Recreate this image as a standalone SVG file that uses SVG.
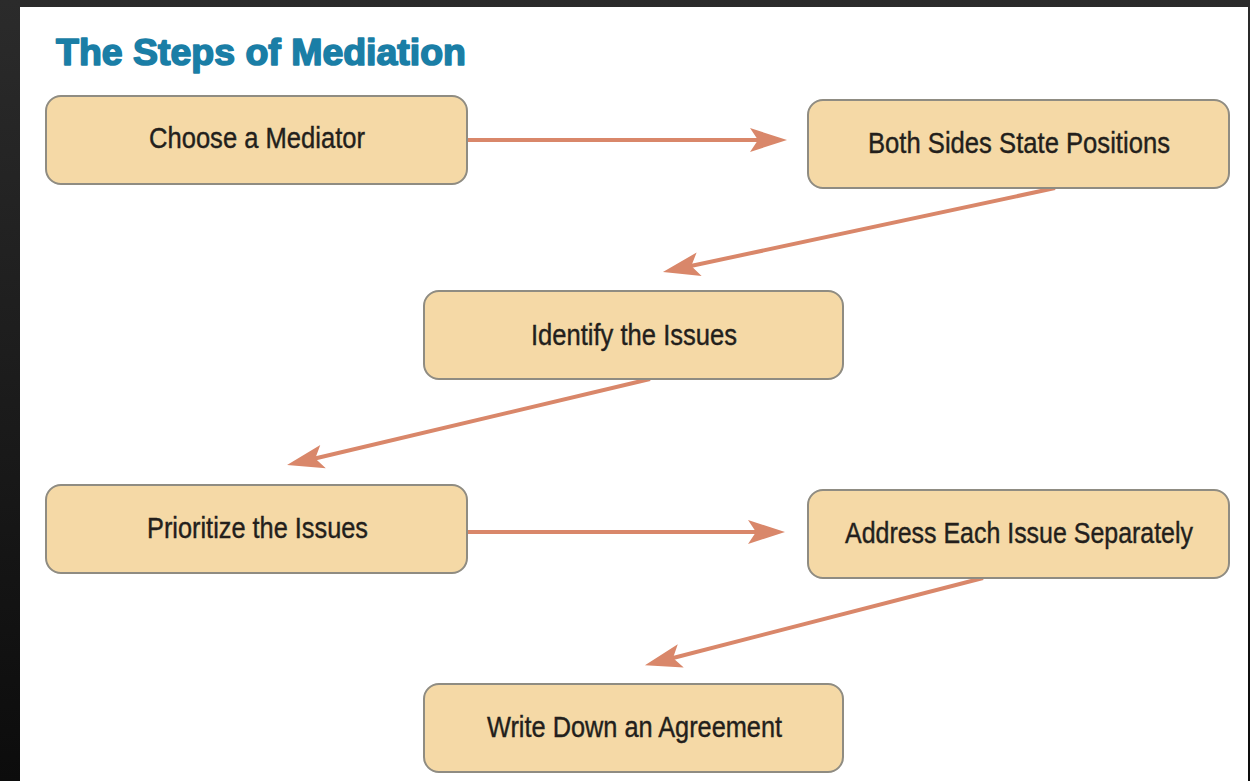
<svg xmlns="http://www.w3.org/2000/svg" width="1250" height="781" viewBox="0 0 1250 781">
  <defs>
    <linearGradient id="bg" x1="0" y1="0" x2="0" y2="1">
      <stop offset="0" stop-color="#2b2b2b"/>
      <stop offset="1" stop-color="#0c0c0c"/>
    </linearGradient>
    <marker id="ah" markerUnits="userSpaceOnUse" viewBox="0 0 40 26" refX="20" refY="13" markerWidth="40" markerHeight="26" orient="auto">
      <path d="M40,13 L3,1 L11,13 L3,25 Z" fill="#d9876a"/>
    </marker>
    <style>
      .box { fill: #f5d9a6; stroke: #8f8c82; stroke-width: 2; }
      .lbl { font-family: "Liberation Sans", Arial, sans-serif; font-size: 29px; fill: #231f1c; text-anchor: middle; stroke: #231f1c; stroke-width: 0.4; }
      .conn { stroke: #d9876a; stroke-width: 4; fill: none; marker-end: url(#ah); }
      .title { font-family: "Liberation Sans", Arial, sans-serif; font-weight: bold; font-size: 36px; fill: #1a7ea6; stroke: #1a7ea6; stroke-width: 1.6; stroke-linejoin: round; }
    </style>
  </defs>
  <rect x="0" y="0" width="1250" height="781" fill="url(#bg)"/>
  <rect x="20" y="7" width="1228" height="774" fill="#ffffff"/>
  <text class="title" x="56" y="65" textLength="410" lengthAdjust="spacingAndGlyphs">The Steps of Mediation</text>

  <g id="connectors">
    <line class="conn" x1="467" y1="140" x2="767" y2="140"/>
    <line class="conn" x1="1055" y1="188" x2="682.5" y2="267.8"/>
    <line class="conn" x1="650" y1="379" x2="306.5" y2="460.5"/>
    <line class="conn" x1="467" y1="532" x2="765" y2="532"/>
    <line class="conn" x1="983" y1="578" x2="664.3" y2="660.2"/>
  </g>

  <g id="n1">
    <rect class="box" x="46" y="96" width="421" height="88" rx="15"/>
    <text class="lbl" x="257" y="148" textLength="216" lengthAdjust="spacingAndGlyphs">Choose a Mediator</text>
  </g>
  <g id="n2">
    <rect class="box" x="808" y="100" width="421" height="88" rx="15"/>
    <text class="lbl" x="1019" y="153" textLength="302" lengthAdjust="spacingAndGlyphs">Both Sides State Positions</text>
  </g>
  <g id="n3">
    <rect class="box" x="424" y="291" width="419" height="88" rx="15"/>
    <text class="lbl" x="634" y="345" textLength="206" lengthAdjust="spacingAndGlyphs">Identify the Issues</text>
  </g>
  <g id="n4">
    <rect class="box" x="46" y="485" width="421" height="88" rx="15"/>
    <text class="lbl" x="257.5" y="538" textLength="221" lengthAdjust="spacingAndGlyphs">Prioritize the Issues</text>
  </g>
  <g id="n5">
    <rect class="box" x="808" y="490" width="421" height="88" rx="15"/>
    <text class="lbl" x="1019" y="543" textLength="348" lengthAdjust="spacingAndGlyphs">Address Each Issue Separately</text>
  </g>
  <g id="n6">
    <rect class="box" x="424" y="684" width="419" height="88" rx="15"/>
    <text class="lbl" x="634.5" y="737" textLength="295" lengthAdjust="spacingAndGlyphs">Write Down an Agreement</text>
  </g>
</svg>
